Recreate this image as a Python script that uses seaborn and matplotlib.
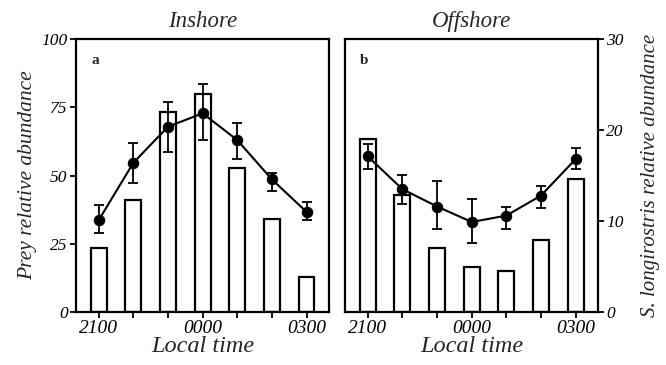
import matplotlib
matplotlib.use("Agg")
import matplotlib.pyplot as plt
import seaborn as sns
import pandas as pd
import numpy as np

sns.set_theme(style="ticks")
plt.rcParams['font.family'] = ['Liberation Serif', 'DejaVu Serif']

times = ["2100", "2200", "2300", "0000", "0100", "0200", "0300"]
tick_labels = ["2100", "", "", "0000", "", "", "0300"]

# Inshore (panel a), left axis 0-100
in_bars = [23.6, 41.2, 73.4, 79.9, 52.9, 34.1, 12.9]
in_pts = [33.7, 54.7, 67.9, 72.8, 63.0, 48.6, 36.7]
in_hi = [39.3, 62.1, 77.1, 83.6, 69.4, 51.0, 40.4]
in_lo = [28.8, 47.4, 58.8, 63.0, 55.9, 44.4, 33.7]

# Offshore (panel b), right axis 0-30
off_bars = [19.0, 12.9, 7.0, 4.96, 4.5, 7.9, 14.6]
off_pts = [17.1, 13.5, 11.6, 9.9, 10.6, 12.8, 16.8]
off_hi = [18.5, 15.1, 14.4, 12.4, 11.6, 13.9, 18.0]
off_lo = [15.7, 11.9, 9.1, 7.6, 9.1, 11.4, 15.7]

fig = plt.figure(figsize=(6.66, 3.65), dpi=100)
axA = fig.add_axes([0.114, 0.145, 0.380, 0.748])
axB = fig.add_axes([0.518, 0.145, 0.380, 0.748])

def draw(ax, bars, pts, hi, lo, ymax, yticks):
    df = pd.DataFrame({"time": times, "bar": bars})
    sns.barplot(data=df, x="time", y="bar", ax=ax, color="white",
                edgecolor="black", linewidth=1.6, width=0.46,
                saturation=1, order=times)
    xs = np.arange(len(times))
    pts = np.array(pts)
    yerr = np.vstack([pts - np.array(lo), np.array(hi) - pts])
    ax.errorbar(xs, pts, yerr=yerr, fmt="none", ecolor="black",
                elinewidth=1.3, capsize=3.5, capthick=1.3, zorder=3)
    dfl = pd.DataFrame({"x": xs, "y": pts})
    sns.lineplot(data=dfl, x="x", y="y", ax=ax, color="black", lw=1.5,
                 marker="o", markersize=7.5, markeredgecolor="black",
                 markerfacecolor="black", zorder=4)
    ax.set_xlim(-0.66, 6.65)
    ax.set_ylim(0, ymax)
    ax.set_yticks(yticks)
    ax.set_yticklabels([str(t) for t in yticks], fontstyle="italic", fontsize=12.5)
    ax.set_xticks(xs)
    ax.set_xticklabels(tick_labels, fontstyle="italic", fontsize=14)
    ax.set_xlabel("Local time", fontstyle="italic", fontsize=17.5, labelpad=-1)
    for s in ax.spines.values():
        s.set_linewidth(1.6)
        s.set_color("black")
        s.set_visible(True)
    ax.tick_params(direction="out", length=4, width=1.3, colors="black", pad=2)

draw(axA, in_bars, in_pts, in_hi, in_lo, 100, [0, 25, 50, 75, 100])
axA.set_ylabel("Prey relative abundance", fontstyle="italic", fontsize=15.5, labelpad=3)
axA.set_title("Inshore", fontstyle="italic", fontsize=16.5, pad=9)
axA.text(0.06, 0.92, "a", transform=axA.transAxes, fontweight="bold",
         fontsize=11, va="center", ha="left")

draw(axB, off_bars, off_pts, off_hi, off_lo, 30, [0, 10, 20, 30])
axB.yaxis.tick_right()
axB.yaxis.set_label_position("right")
axB.set_ylabel("S. longirostris relative abundance", fontstyle="italic",
               fontsize=15, labelpad=12)
axB.set_title("Offshore", fontstyle="italic", fontsize=16.5, pad=9)
axB.text(0.06, 0.92, "b", transform=axB.transAxes, fontweight="bold",
         fontsize=11, va="center", ha="left")

fig.savefig("out.png", dpi=100)
